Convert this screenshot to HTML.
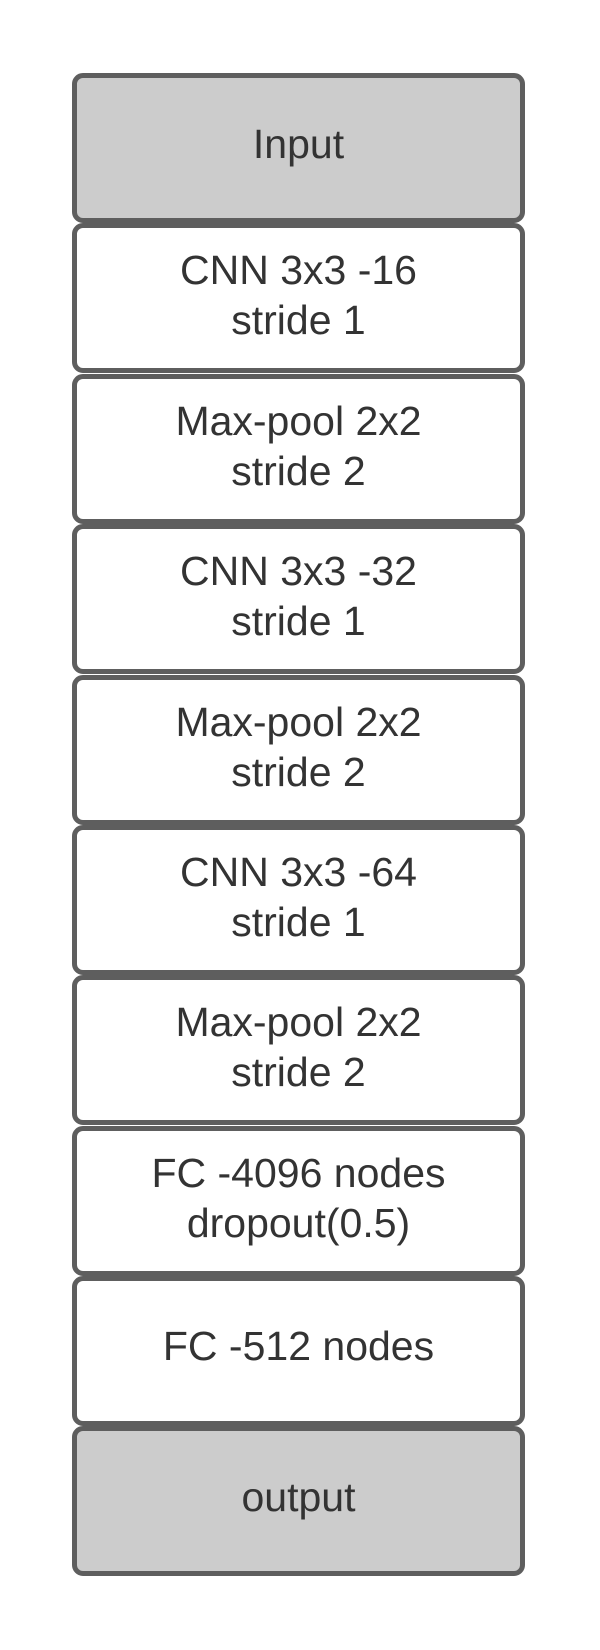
<!DOCTYPE html>
<html><head><meta charset="utf-8"><style>
html,body{margin:0;padding:0;background:#fff;}
body{width:600px;height:1650px;position:relative;overflow:hidden;font-family:"Liberation Sans",sans-serif;}
.b{position:absolute;left:72px;width:443px;height:134px;padding-bottom:6px;border:5px solid #5e5e5e;border-radius:11px;background:#fff;display:flex;align-items:center;justify-content:center;text-align:center;color:#333;font-size:41px;line-height:50px;}
.g{background:#cccccc;}
.s{height:130px;padding-bottom:10px;}
</style></head><body>
<div class="b g" style="top:73px;height:132px;padding-bottom:8px">Input</div>
<div class="b" style="top:223px">CNN 3x3 -16<br>stride 1</div>
<div class="b" style="top:374px">Max-pool 2x2<br>stride 2</div>
<div class="b" style="top:524px">CNN 3x3 -32<br>stride 1</div>
<div class="b" style="top:675px">Max-pool 2x2<br>stride 2</div>
<div class="b" style="top:825px">CNN 3x3 -64<br>stride 1</div>
<div class="b" style="top:975px">Max-pool 2x2<br>stride 2</div>
<div class="b" style="top:1126px">FC -4096 nodes<br>dropout(0.5)</div>
<div class="b s" style="top:1276px">FC -512 nodes</div>
<div class="b g" style="top:1426px;height:132px;padding-bottom:8px">output</div>
</body></html>
